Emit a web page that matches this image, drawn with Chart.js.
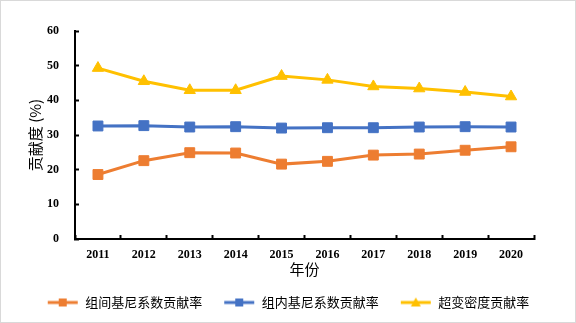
<!DOCTYPE html>
<html>
<head>
<meta charset="utf-8">
<script src="https://cdn.jsdelivr.net/npm/chart.js@4/dist/chart.umd.min.js"></script>
<style>
  html, body { margin: 0; padding: 0; background: #fff; }
  #wrap { width: 576px; height: 323px; position: relative; }
</style>
</head>
<body>
<div id="wrap"><canvas id="chart" width="576" height="323"></canvas></div>
<script>
// Chart data
const years = ['2011', '2012', '2013', '2014', '2015', '2016', '2017', '2018', '2019', '2020'];
const betweenGini = [18.6, 22.6, 24.9, 24.8, 21.6, 22.4, 24.2, 24.5, 25.6, 26.6];
const withinGini = [32.6, 32.7, 32.3, 32.4, 32.0, 32.1, 32.1, 32.3, 32.4, 32.3];
const transvariation = [49.3, 45.5, 42.9, 42.9, 47.0, 45.9, 44.0, 43.4, 42.4, 41.1];
const seriesNames = ['组间基尼系数贡献率', '组内基尼系数贡献率', '超变密度贡献率'];
const yTicks = [0, 10, 20, 30, 40, 50, 60];

const colors = ['#ED7D31', '#4472C4', '#FFC000'];
const serif = '"Liberation Serif", "Times New Roman", serif';
const cjk = '"Noto Sans CJK SC", "Noto Sans", sans-serif';

// Legend icon: short line with the marker in the middle
function legendIcon(color, shape) {
    const c = document.createElement('canvas');
    c.width = 32;
    c.height = 12;
    const g = c.getContext('2d');
    g.strokeStyle = color;
    g.lineWidth = 3;
    g.beginPath();
    g.moveTo(1, 6);
    g.lineTo(31, 6);
    g.stroke();
    g.fillStyle = color;
    if (shape === 'triangle') {
        g.beginPath();
        g.moveTo(16, 1);
        g.lineTo(21, 10);
        g.lineTo(11, 10);
        g.closePath();
        g.fill();
    } else {
        g.fillRect(12, 2, 8, 8);
    }
    return c;
}

const frame = {
    id: 'frame',
    beforeDraw(chart) {
        const ctx = chart.ctx;
        ctx.save();
        ctx.fillStyle = '#fff';
        ctx.fillRect(0, 0, chart.width, chart.height);
        ctx.strokeStyle = '#d9d9d9';
        ctx.lineWidth = 1;
        ctx.strokeRect(0.5, 0.5, chart.width - 1, chart.height - 1);
        ctx.restore();
    }
};

function makeSet(label, data, color, shape, radius) {
    return {
        label: label,
        data: data,
        borderColor: color,
        backgroundColor: color,
        borderWidth: 3,
        pointStyle: shape,
        pointRadius: radius,
        pointHoverRadius: radius,
        pointBorderWidth: 1,
        pointBackgroundColor: color,
        pointBorderColor: color,
        tension: 0,
        legendIcon: legendIcon(color, shape)
    };
}

new Chart(document.getElementById('chart'), {
    type: 'line',
    data: {
        labels: years,
        datasets: [
            makeSet(seriesNames[0], betweenGini, colors[0], 'rect', 7),
            makeSet(seriesNames[1], withinGini, colors[1], 'rect', 7),
            makeSet(seriesNames[2], transvariation, colors[2], 'triangle', 6.5)
        ]
    },
    options: {
        responsive: false,
        animation: false,
        layout: { padding: { top: 31, right: 0, bottom: 4, left: 0 } },
        plugins: {
            tooltip: { enabled: false },
            legend: {
                position: 'bottom',
                labels: {
                    usePointStyle: true,
                    pointStyleWidth: 32,
                    padding: 21,
                    color: '#000',
                    font: { family: cjk, size: 13 },
                    generateLabels(chart) {
                        return chart.data.datasets.map((ds, i) => ({
                            text: ds.label,
                            pointStyle: ds.legendIcon,
                            fillStyle: ds.borderColor,
                            strokeStyle: ds.borderColor,
                            lineWidth: 0,
                            hidden: false,
                            datasetIndex: i,
                            fontColor: '#000'
                        }));
                    }
                }
            }
        },
        scales: {
            x: {
                offset: true,
                grid: {
                    offset: true,
                    drawOnChartArea: false,
                    drawTicks: true,
                    tickLength: -4,
                    tickWidth: 2,
                    tickColor: '#000'
                },
                border: { color: '#000', width: 2 },
                ticks: {
                    color: '#000',
                    padding: 13,
                    font: { family: serif, size: 12, weight: 'bold' }
                },
                title: {
                    display: true,
                    text: '年份',
                    color: '#000',
                    font: { family: cjk, size: 15 },
                    padding: { top: 0, bottom: -3 }
                },
                afterFit(scale) { scale.height = 36; }
            },
            y: {
                min: 0,
                max: 60,
                afterBuildTicks(scale) { scale.ticks = yTicks.map(v => ({ value: v })); },
                grid: {
                    drawOnChartArea: false,
                    drawTicks: true,
                    tickLength: -4,
                    tickWidth: 2,
                    tickColor: '#000'
                },
                border: { color: '#000', width: 2 },
                ticks: {
                    color: '#000',
                    padding: 20,
                    font: { family: serif, size: 12, weight: 'bold' }
                },
                title: {
                    display: true,
                    text: '贡献度 (%)',
                    color: '#000',
                    font: { family: cjk, size: 15 },
                    padding: { top: 26, bottom: 0 }
                },
                afterFit(scale) { scale.width = 75; }
            },
            // empty right-hand gutter so the legend centres on the whole canvas
            gutter: {
                position: 'right',
                display: true,
                grid: { display: false, drawTicks: false },
                border: { display: false },
                ticks: { display: false },
                afterFit(scale) { scale.width = 42; }
            }
        }
    },
    plugins: [frame]
});
</script>
</body>
</html>
